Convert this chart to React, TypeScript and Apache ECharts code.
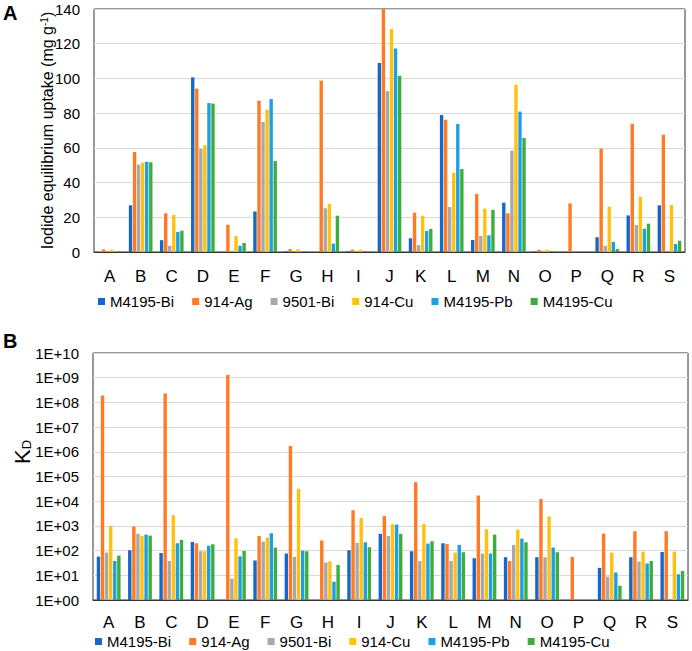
import React, { useEffect, useRef } from "react";
import * as echarts from "echarts";

const categories = ["A", "B", "C", "D", "E", "F", "G", "H", "I", "J", "K", "L", "M", "N", "O", "P", "Q", "R", "S"];
const seriesNames = ["M4195-Bi", "914-Ag", "9501-Bi", "914-Cu", "M4195-Pb", "M4195-Cu"];
const colors = ["#1667C7", "#FF7A22", "#A8A8A8", "#FFC10E", "#1C9FE3", "#3DAD3D"];

// Panel A: iodide equilibrium uptake (mg g-1)
const uptakeBi = [0, 26.9, 6.8, 100.6, 0, 23.4, 0.3, 0, 0.4, 108.9, 7.9, 78.9, 6.9, 28.4, 0.3, 0, 8.5, 21.1, 26.9];
const uptakeAg = [1.5, 57.6, 22.3, 94.1, 15.7, 87.2, 1.7, 98.7, 1.4, 140, 22.7, 76.2, 33.4, 22.3, 1.3, 28, 59.5, 73.9, 67.6];
const uptake9501 = [0, 50.3, 3.6, 59.3, 0, 74.9, 0, 25.2, 0.2, 92.6, 4, 25.9, 9.2, 58.4, 0.3, 0, 3.6, 15.6, 0];
const uptakeCu = [1.3, 51.5, 21.3, 61.6, 9.2, 82, 1.5, 27.8, 1.3, 128.5, 20.9, 45.7, 25, 96.4, 1.3, 0, 26.1, 31.9, 27.1];
const uptakePb = [0, 52, 11.5, 85.8, 3.6, 88.1, 0.3, 4.8, 0.4, 117.3, 12.1, 73.7, 9.6, 80.9, 0.3, 0, 5.8, 13.4, 4.6];
const uptakeMCu = [0, 51.7, 12.3, 85.5, 5.2, 52.4, 0.3, 20.9, 0.3, 101.6, 13.3, 47.8, 24.2, 65.7, 0.3, 0, 1.7, 16.3, 6.5];

// Panel B: KD (log scale), null = no bar
const kdBi = [57, 103, 80, 225, null, 40, 76, null, 103, 475, 94, 198, 49, 54, 54, null, 20, 54, 88];
const kdAg = [1.9e8, 940, 2.3e8, 198, 1.3e9, 392, 1.7e6, 256, 4300, 2540, 5.9e4, 186, 1.7e4, 38, 1.24e4, 55, 490, 610, 610];
const kd9501 = [83, 475, 38, 94, 7.3, 230, 55, 33, 204, 392, 38, 38, 76, 170, 54, null, 8.8, 36, null];
const kdCu = [1000, 392, 2700, 94, 316, 336, 3.2e4, 37, 2100, 1170, 1200, 83, 730, 710, 2400, null, 83, 91, 91];
const kdPb = [38, 445, 198, 158, 59, 505, 100, 5.5, 218, 1130, 192, 170, 76, 306, 132, null, 13, 30, 11];
const kdMCu = [63, 405, 270, 180, 97, 132, 94, 26, 137, 475, 240, 86, 445, 218, 86, null, 3.8, 38, 15];

const uptakeTicks = { min: 0, max: 140, interval: 20 };
const kdRange = { min: 1, max: 1e10 };

const FONT = 'Arial, "Liberation Sans", sans-serif';

export default function App() {
  const ref = useRef<HTMLDivElement>(null);
  useEffect(() => {
    if (!ref.current) return;
    const chart = echarts.init(ref.current, undefined, { renderer: "svg" });
    const uptake = [uptakeBi, uptakeAg, uptake9501, uptakeCu, uptakePb, uptakeMCu];
    const kd = [kdBi, kdAg, kd9501, kdCu, kdPb, kdMCu];
    const barCommon = { barCategoryGap: "24%", barGap: "20%" };
    const series: any[] = [];
    uptake.forEach((d, i) =>
      series.push({ type: "bar", name: seriesNames[i], xAxisIndex: 0, yAxisIndex: 0, data: d, itemStyle: { color: colors[i] }, ...barCommon })
    );
    kd.forEach((d, i) =>
      series.push({
        type: "bar",
        name: seriesNames[i],
        xAxisIndex: 1,
        yAxisIndex: 1,
        data: d.map((v) => (v == null ? "-" : v)),
        itemStyle: { color: colors[i] },
        ...barCommon,
      })
    );
    const xAxisCommon = {
      type: "category",
      data: categories,
      axisTick: { show: false },
      axisLine: { lineStyle: { color: "#333", width: 1 } },
      axisLabel: { fontSize: 17, color: "#000", margin: 14, fontFamily: FONT },
    };
    const legendCommon = {
      data: seriesNames,
      icon: "rect",
      itemWidth: 7,
      itemHeight: 7,
      itemGap: 18,
      textStyle: { fontSize: 15, color: "#000", fontFamily: FONT },
      selectedMode: false,
    };
    chart.setOption({
      animation: false,
      textStyle: { fontFamily: FONT },
      grid: [
        { left: 94, top: 9, width: 591, height: 243, show: true, borderColor: "#333", borderWidth: 1, backgroundColor: "transparent" },
        { left: 93, top: 353, width: 595, height: 247, show: true, borderColor: "#333", borderWidth: 1, backgroundColor: "transparent" },
      ],
      xAxis: [
        { ...xAxisCommon, gridIndex: 0, axisLabel: { ...xAxisCommon.axisLabel, margin: 16 } },
        { ...xAxisCommon, gridIndex: 1 },
      ],
      yAxis: [
        {
          gridIndex: 0,
          type: "value",
          min: uptakeTicks.min,
          max: uptakeTicks.max,
          interval: uptakeTicks.interval,
          axisLine: { show: false },
          axisTick: { show: false },
          splitLine: { lineStyle: { color: "#D9D9D9", width: 1 } },
          axisLabel: { fontSize: 15, color: "#000", margin: 14, fontFamily: FONT },
          name: "Iodide equilibrium uptake (mg g{sup|-1})",
          nameLocation: "middle",
          nameGap: 38,
          nameMoveOverlap: false,
          nameTextStyle: {
            fontSize: 16,
            color: "#000",
            fontFamily: FONT,
            rich: {
              sup: { fontSize: 10, verticalAlign: "top", color: "#000", fontFamily: FONT, padding: [0, 0, 7, 0] },
            },
          },
        },
        {
          gridIndex: 1,
          type: "log",
          logBase: 10,
          min: kdRange.min,
          max: kdRange.max,
          interval: 1,
          splitNumber: 10,
          axisLine: { show: false },
          axisTick: { show: false },
          minorTick: { show: false },
          splitLine: { lineStyle: { color: "#D9D9D9", width: 1 } },
          axisLabel: {
            fontSize: 15,
            color: "#000",
            margin: 14,
            fontFamily: FONT,
            formatter: (v: number) => {
              const e = Math.round(Math.log10(v));
              return "1E+" + (e < 10 ? "0" : "") + e;
            },
          },
        },
      ],
      legend: [
        { ...legendCommon, left: 93, top: 289 },
        { ...legendCommon, left: 90, top: 629 },
      ],
      graphic: [
        { type: "text", left: 3, top: 3, style: { text: "A", font: `bold 20px ${FONT}`, fill: "#000" } },
        { type: "text", left: 3, top: 331, style: { text: "B", font: `bold 20px ${FONT}`, fill: "#000" } },
        {
          type: "text",
          x: 22,
          y: 452,
          rotation: Math.PI / 2,
          style: {
            text: "K{sub|D}",
            align: "center",
            verticalAlign: "middle",
            fontSize: 22,
            fontFamily: FONT,
            fill: "#000",
            rich: { sub: { fontSize: 13, verticalAlign: "bottom", fontFamily: FONT, fill: "#000", padding: [9, 0, 0, 0] } },
          },
        },
      ],
      series,
    });
    return () => chart.dispose();
  }, []);
  return <div ref={ref} style={{ position: "fixed", left: 0, top: 0, width: 692, height: 651, background: "#fff" }} />;
}
